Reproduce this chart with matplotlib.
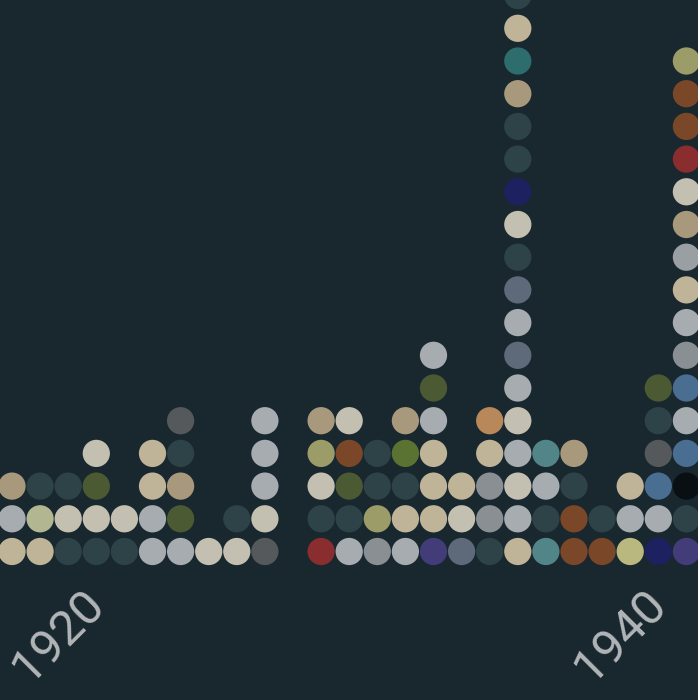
import matplotlib
matplotlib.use("Agg")
import matplotlib.pyplot as plt

# colour keys used by the dots
palette = {
    'S': '#2e4347',  # dark slate
    'B': '#bfb398',  # beige
    'W': '#c3c0b1',  # light beige grey
    'L': '#a6acb0',  # light grey blue
    'T': '#a8997c',  # tan
    'G': '#898f93',  # grey
    'H': '#9a9fa3',  # lighter grey
    'D': '#55595c',  # dark grey
    'O': '#4c5a33',  # dark olive
    'M': '#5b7332',  # green
    'Y': '#9b9c68',  # olive
    'P': '#b3b791',  # pale olive
    'Q': '#b9b87e',  # yellow olive
    'R': '#892d2e',  # red
    'U': '#7b4729',  # brown
    'N': '#1d2160',  # navy
    'I': '#423c79',  # indigo
    'V': '#5e6a7a',  # slate blue grey
    'E': '#528587',  # teal grey
    'C': '#2e6d6d',  # teal
    'A': '#b8875a',  # orange tan
    'K': '#4a6d92',  # steel blue
    'X': '#0a0f13',  # black
}

years = list(range(1917, 1942))
# one string per year, dots listed bottom to top
stacks = [
    "BLT", "BPS", "SWS", "SWOW", "SW", "LLBB", "LOTSD", "W", "WS", "DWLLL",
    "",
    "RSWYT", "LSOUW", "GYSS", "LBSMT", "IBBBLOL", "VWB", "SGGBA",
    "BLWLWLVLVSWNSSTCBS",
    "ESLE", "UUST", "US", "QLB", "NLKDSO",
    "ISXKLKGLBHTWRUUY",
]
label_years = [1920, 1940]

bg = '#19272f'

fig = plt.figure(figsize=(6.98, 7.0), dpi=100)
fig.patch.set_facecolor(bg)
ax = fig.add_axes([0, 0, 1, 1])
ax.set_facecolor(bg)

xs, ys, cs = [], [], []
for yr, col in zip(years, stacks):
    for i, key in enumerate(col):
        xs.append(yr)
        ys.append(i)
        cs.append(palette[key])

ax.scatter(xs, ys, s=385, c=cs, linewidths=0)

for yr in label_years:
    ax.text(yr - 1.33, -2.58, str(yr), rotation=45, ha='center', va='center',
            fontsize=35, color='#b2b6b9', family=['Roboto', 'DejaVu Sans'])

# pixel layout: 28.1 px per year, 32.7 px per row
ax.set_xlim(1917 - 12 / 28.1, 1917 + 686 / 28.1)
ax.set_ylim(-148.5 / 32.7, 551.5 / 32.7)
ax.axis('off')

fig.savefig('out.png', dpi=100, facecolor=bg)
